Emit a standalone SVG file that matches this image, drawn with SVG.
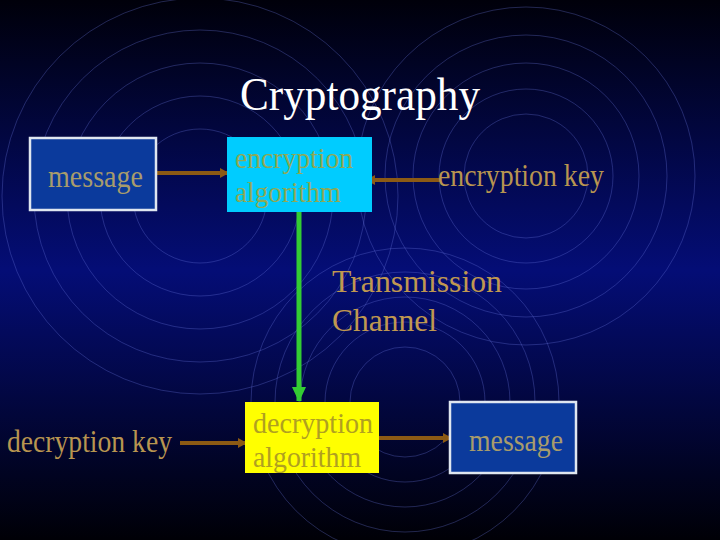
<svg xmlns="http://www.w3.org/2000/svg" width="720" height="540" viewBox="0 0 720 540">
<defs>
<linearGradient id="bg" x1="0" y1="0" x2="0" y2="1">
<stop offset="0" stop-color="#00000a"/>
<stop offset="0.5" stop-color="#040d76"/>
<stop offset="1" stop-color="#000006"/>
</linearGradient>
<marker id="brown" markerWidth="10" markerHeight="10" refX="8" refY="5" orient="auto" markerUnits="userSpaceOnUse">
<path d="M0,0 L9,5 L0,10 Z" fill="#8c5a14"/>
</marker>
<marker id="green" markerWidth="16" markerHeight="16" refX="14" refY="8" orient="auto" markerUnits="userSpaceOnUse">
<path d="M0,1 L15,8 L0,15 Z" fill="#33cc33"/>
</marker>
</defs>
<style>
.ring{fill:none;stroke:#6a78e0;stroke-opacity:0.4;stroke-width:0.8}
.msgbox{fill:#0b3a9c;stroke:#dfe6f0;stroke-width:2.5}
.t{font-family:"Liberation Serif","Times New Roman",serif;font-size:31px}
.t2{font-family:"Liberation Serif","Times New Roman",serif;font-size:29px}
.msg{fill:#a89c6c}
.key{fill:#b89550}
.brown{stroke:#8c5a14;stroke-width:4;fill:none}
</style>
<rect x="0" y="0" width="720" height="540" fill="url(#bg)"/>
<g id="background-rings">
<circle class="ring" cx="200" cy="196" r="67"/>
<circle class="ring" cx="200" cy="196" r="100"/>
<circle class="ring" cx="200" cy="196" r="133"/>
<circle class="ring" cx="200" cy="196" r="166"/>
<circle class="ring" cx="200" cy="196" r="198"/>
<circle class="ring" cx="526" cy="176" r="62"/>
<circle class="ring" cx="526" cy="176" r="87"/>
<circle class="ring" cx="526" cy="176" r="113"/>
<circle class="ring" cx="526" cy="176" r="141"/>
<circle class="ring" cx="526" cy="176" r="169"/>
<circle class="ring" cx="405" cy="402" r="55"/>
<circle class="ring" cx="405" cy="402" r="80"/>
<circle class="ring" cx="405" cy="402" r="105"/>
<circle class="ring" cx="405" cy="402" r="130"/>
<circle class="ring" cx="405" cy="402" r="154"/>
</g>
<text x="360" y="110" text-anchor="middle" font-family="Liberation Serif, Times New Roman, serif" font-size="47" fill="#ffffff" textLength="240" lengthAdjust="spacingAndGlyphs">Cryptography</text>
<g id="connectors">
<line class="brown" x1="157" y1="173" x2="228" y2="173" marker-end="url(#brown)"/>
<line class="brown" x1="440" y1="180" x2="367" y2="180" marker-end="url(#brown)"/>
<line x1="299" y1="212" x2="299" y2="401" stroke="#33cc33" stroke-width="5" marker-end="url(#green)"/>
<line class="brown" x1="180" y1="443" x2="246" y2="443" marker-end="url(#brown)"/>
<line class="brown" x1="379" y1="438" x2="451" y2="438" marker-end="url(#brown)"/>
</g>
<g id="message-top">
<rect class="msgbox" x="30" y="138" width="126" height="72"/>
<text class="t msg" x="48" y="187" textLength="95" lengthAdjust="spacingAndGlyphs">message</text>
</g>
<g id="encryption-algorithm">
<rect x="227" y="137" width="145" height="75" fill="#00ccff"/>
<text class="t2" fill="#8fa855" x="235" y="168" textLength="118" lengthAdjust="spacingAndGlyphs">encryption</text>
<text class="t2" fill="#8fa855" x="235" y="202" textLength="106" lengthAdjust="spacingAndGlyphs">algorithm</text>
</g>
<g id="encryption-key">
<text class="t key" x="438" y="186" textLength="166" lengthAdjust="spacingAndGlyphs">encryption key</text>
</g>
<g id="transmission-channel">
<text x="332" y="292" font-family="Liberation Serif, Times New Roman, serif" font-size="32" fill="#c09850" textLength="170" lengthAdjust="spacingAndGlyphs">Transmission</text>
<text x="332" y="331" font-family="Liberation Serif, Times New Roman, serif" font-size="32" fill="#c09850" textLength="105" lengthAdjust="spacingAndGlyphs">Channel</text>
</g>
<g id="decryption-key">
<text class="t key" x="7" y="452" textLength="165" lengthAdjust="spacingAndGlyphs">decryption key</text>
</g>
<g id="decryption-algorithm">
<rect x="245" y="402" width="134" height="71" fill="#ffff00"/>
<text class="t2" fill="#b0a020" x="253" y="433" textLength="120" lengthAdjust="spacingAndGlyphs">decryption</text>
<text class="t2" fill="#b0a020" x="253" y="467" textLength="108" lengthAdjust="spacingAndGlyphs">algorithm</text>
</g>
<g id="message-bottom">
<rect class="msgbox" x="450" y="402" width="126" height="71"/>
<text class="t msg" x="469" y="451" textLength="94" lengthAdjust="spacingAndGlyphs">message</text>
</g>
</svg>
